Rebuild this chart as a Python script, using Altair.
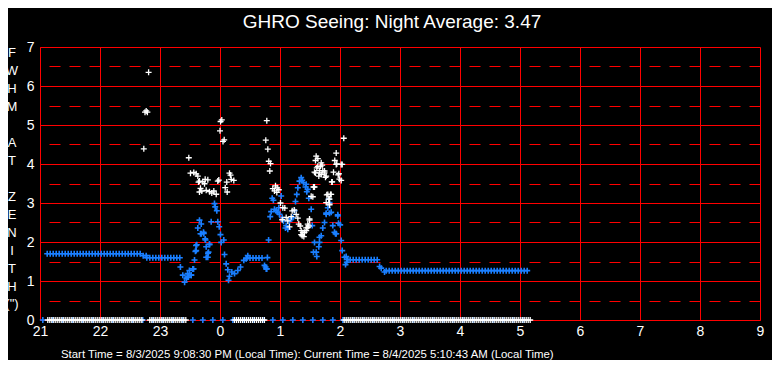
import altair as alt
import pandas as pd

# ---------------- data (x = hours after 21:00 local time) ----------------
hour_ticks = list(range(13))            # 21 .. 9
y_ticks = [0, 1, 2, 3, 4, 5, 6, 7]
half_lines = [0.5, 1.5, 2.5, 3.5, 4.5, 5.5, 6.5]

white_h = [1.81, 1.75, 1.77, 1.79, 1.73, 3.03, 3.01, 3.00, 3.07, 3.05, 2.48,
           2.508, 2.563, 2.603, 2.630, 2.658, 2.642, 2.713, 2.753, 2.797, 2.742,
           2.675, 2.658, 2.697, 2.770, 2.825, 2.863, 2.897, 2.937, 2.963, 2.980,
           3.158, 3.175, 3.187, 3.230, 3.113, 3.087, 3.120,
           3.78, 3.763, 3.797, 3.813, 3.842, 3.83, 3.88, 3.925, 3.953, 3.98,
           3.908, 3.947, 4.008, 4.047, 4.08, 4.203, 4.237, 4.27, 4.187, 4.103,
           4.037, 4.13, 4.158, 4.297, 4.313, 4.337, 4.38, 4.353, 4.397, 4.437,
           4.463, 4.492, 4.48, 4.547, 4.575, 4.592, 4.613, 4.63, 4.647, 4.687,
           4.675, 4.713, 4.658, 4.687, 4.742, 4.758, 4.87, 4.892, 4.937, 4.913,
           4.947, 4.97, 4.99, 5.02, 5.037, 5.063, 4.797, 4.842, 4.825, 4.825,
           4.77, 4.52, 4.603, 4.63, 4.592, 4.703, 4.575, 4.658, 4.742, 4.77,
           4.98, 4.863, 4.937, 5.02, 4.558, 4.78, 4.853, 4.813, 4.825, 4.492,
           4.463, 4.437, 4.408, 4.37, 4.353]
white_v = [6.35, 5.33, 5.36, 5.33, 4.39, 5.13, 5.09, 4.85, 4.62, 4.58, 4.16,
           3.766, 3.784, 3.748, 3.690, 3.562, 3.537, 3.545, 3.606, 3.595, 3.494,
           3.377, 3.282, 3.308, 3.326, 3.290, 3.257, 3.308, 3.224, 3.562, 3.588,
           3.766, 3.715, 3.606, 3.580, 3.537, 3.392, 3.282,
           5.11, 4.61, 4.38, 4.07, 4.01, 3.82, 3.37, 3.44, 3.39, 3.34,
           3.31, 3.27, 3.00, 2.88, 2.87, 2.80, 2.82, 2.71, 2.65, 2.63,
           2.57, 2.54, 2.39, 2.61, 2.46, 2.41, 2.24, 2.19, 2.14, 2.29,
           2.37, 2.56, 2.41, 3.16, 3.41, 3.77, 3.90, 3.94, 3.69, 4.03,
           3.94, 3.83, 3.77, 3.73, 3.77, 3.66, 3.54, 3.79, 4.28, 4.09,
           4.00, 3.72, 3.61, 3.58, 3.99, 4.66, 3.22, 3.22, 2.97, 3.10,
           3.01, 3.17, 4.20, 4.14, 4.09, 3.97, 3.79, 3.83, 3.82, 3.69,
           3.75, 3.54, 3.99, 3.99, 3.41, 3.21, 3.22, 3.10, 2.95, 2.59,
           2.46, 2.36, 2.25, 2.16, 2.29]

blue_h = [2.34, 2.60, 2.59, 2.69, 2.725, 2.758, 2.825, 2.80, 2.77, 2.56, 2.49,
          2.46, 2.44, 2.41, 2.38, 2.52, 2.47,
          2.908, 2.92, 2.947, 2.853, 2.658, 2.687, 2.63, 2.963, 2.987, 3.008,
          2.675, 2.73, 2.753, 2.77, 2.825, 2.808, 2.797, 2.613, 2.603, 2.575,
          3.02, 3.063, 3.075, 3.103, 3.13, 3.142, 3.158, 3.197, 3.242, 3.297,
          3.342, 3.397, 3.463, 3.437, 2.547, 2.52, 2.453,
          3.81, 3.76, 3.78, 3.79,
          3.742, 3.77, 3.837, 3.853, 3.87, 3.89, 3.908, 3.937, 3.963, 3.99,
          3.98, 4.02, 4.037, 4.058, 4.103, 4.13, 4.092, 4.158, 4.187, 4.213,
          4.242, 4.258, 4.28, 4.297, 4.325, 4.353, 4.37, 4.392, 4.425, 4.447,
          4.48, 4.52, 4.537, 4.575, 4.558, 4.613, 4.647, 4.658, 4.687, 4.713,
          4.742, 4.77, 4.797, 4.813, 4.825, 4.853, 4.88, 4.908, 4.937, 4.975,
          5.003, 5.02, 5.037, 5.075, 5.113, 5.13,
          4.437, 4.463, 4.658, 4.603, 4.963, 4.925, 5.092, 5.103,
          5.66, 5.687, 5.742, 4.77, 4.825, 4.963]
blue_v = [1.36, 1.91, 1.76, 2.21, 2.25, 2.05, 1.93, 1.71, 1.61, 1.31, 1.27,
          1.19, 1.06, 0.97, 1.15, 1.15, 1.10,
          2.985, 2.90, 2.80, 2.52, 2.56, 2.46, 2.36, 2.52, 2.39, 2.19,
          2.21, 2.22, 2.08, 1.88, 1.95, 1.74, 1.61, 1.93, 1.78, 1.54,
          1.99, 2.05, 1.68, 1.44, 1.29, 1.02, 1.12, 1.23, 1.19, 1.27,
          1.36, 1.53, 1.65, 1.57, 1.31, 1.15, 1.10,
          2.05, 1.36, 1.31, 1.60,
          1.40, 1.31, 2.65, 2.78, 3.12, 3.07, 2.84, 2.80, 2.76, 2.71,
          2.88, 3.18, 2.63, 2.54, 2.42, 2.33, 2.36, 2.54, 2.59, 2.63,
          2.80, 3.04, 3.22, 3.39, 3.56, 3.65, 3.58, 3.52, 3.41, 3.29,
          3.12, 2.84, 2.42, 1.99, 1.74, 1.63, 1.88, 1.99, 2.16, 2.36,
          2.50, 2.71, 2.88, 3.10, 3.01, 2.76, 2.42, 2.25, 2.21, 2.48,
          2.44, 2.04, 1.78, 1.61, 1.48, 1.55,
          3.48, 3.35, 2.12, 1.74, 2.67, 2.21, 1.42, 1.63,
          1.37, 1.33, 1.23, 2.74, 2.74, 2.70]

# runs of steady readings: start hour, end hour, value
blue_run_start = [0.12, 1.72, 1.78, 3.45, 5.17, 5.77]
blue_run_end = [1.71, 1.77, 2.33, 3.70, 5.66, 8.16]
blue_run_value = [1.70, 1.65, 1.595, 1.59, 1.545, 1.265]
blue_zero_start, blue_zero_end, blue_zero_step = 0.047, 8.16, 1 / 6

white_zero_start = [0.13, 1.83, 3.24, 5.07]
white_zero_end = [1.72, 2.45, 3.74, 8.17]

title_text = "GHRO Seeing: Night Average: 3.47"
footer_text = ("Start Time = 8/3/2025 9:08:30 PM (Local Time): "
               "Current Time = 8/4/2025 5:10:43 AM (Local Time)")
ytitle_words = [["F", "W", "H", "M"], ["A", "T"],
                ["Z", "E", "N", "I", "T", "H", "(\")"]]
ytitle_word_top = [6, 96, 150]          # pixel offset of each word's first letter

# ---------------- build tables ----------------
def run_points(starts, ends, values, step):
    hs, vs = [], []
    for s, e, v in zip(starts, ends, values):
        t = s
        while t <= e + 1e-9:
            hs.append(t)
            vs.append(v)
            t += step
    return hs, vs

bh, bv = run_points(blue_run_start, blue_run_end, blue_run_value, 0.05)
zh, zv = run_points([blue_zero_start], [blue_zero_end], [0.0], blue_zero_step)
wh, wv = run_points(white_zero_start, white_zero_end, [0.0] * 4, 1 / 30)

blue_df = pd.DataFrame({"h": blue_h + bh + zh, "v": blue_v + bv + zv})
white_df = pd.DataFrame({"h": white_h + wh, "v": white_v + wv})

RED = "#ff0000"
BLUE = "#1a7fff"
FONT = "Liberation Sans"
PLUS = "M-1,0H1M0,-1V1"

xscale = alt.Scale(domain=[0, 12], nice=False, zero=False)
yscale = alt.Scale(domain=[0, 7], nice=False)

x_axis = alt.Axis(values=hour_ticks, labelExpr="(datum.value + 21) % 24",
                  grid=True, gridColor=RED, gridWidth=1, gridOpacity=1,
                  domainColor=RED, domainWidth=1, ticks=False,
                  labelColor="white", labelFont=FONT, labelFontSize=14,
                  labelPadding=4, title=None, labelFlush=False,
                  labelOverlap=False)
y_axis = alt.Axis(values=y_ticks, grid=True, gridColor=RED, gridWidth=1,
                  gridOpacity=1, domainColor=RED, domainWidth=1, ticks=False,
                  labelColor="white", labelFont=FONT, labelFontSize=14,
                  labelPadding=6, title=None, labelFlush=False,
                  labelOverlap=False)
half_axis = alt.Axis(values=half_lines, orient="right", grid=True,
                     gridColor=RED, gridWidth=1, gridOpacity=1,
                     gridDash=[11, 9], domain=False,
                     ticks=False, labels=False, title=None)

X = alt.X("h:Q", scale=xscale, axis=x_axis)
Y = alt.Y("v:Q", scale=yscale, axis=y_axis)

frame = alt.Chart(pd.DataFrame({"h": [0], "v": [0]})).mark_point(opacity=0).encode(
    x=X, y=Y,
)

blue = alt.Chart(blue_df).mark_point(
    shape=PLUS, filled=False, stroke=BLUE, strokeWidth=1.6, size=36, opacity=1
).encode(x=X, y=Y)

white = alt.Chart(white_df).mark_point(
    shape=PLUS, filled=False, stroke="white", strokeWidth=1.3, size=36, opacity=1
).encode(x=X, y=Y)

title = alt.Chart(pd.DataFrame({"t": [title_text]})).mark_text(
    color="white", font=FONT, fontSize=19, align="center", baseline="alphabetic"
).encode(text="t:N", x=alt.value(352), y=alt.value(-19))

footer = alt.Chart(pd.DataFrame({"t": [footer_text]})).mark_text(
    color="white", font=FONT, fontSize=11.4, align="left",
    baseline="middle"
).encode(text="t:N", x=alt.value(21), y=alt.value(308))

ytitle_layers = []
for word, top in zip(ytitle_words, ytitle_word_top):
    ytitle_layers.append(
        alt.Chart(pd.DataFrame({"t": ["\n".join(word)]})).mark_text(
            color="white", font=FONT, fontSize=13, align="center",
            baseline="middle", lineBreak="\n", lineHeight=17.9
        ).encode(text="t:N", x=alt.value(-28), y=alt.value(top))
    )

# dashed half-unit grid lines, drawn by an axis of their own
half = alt.Chart(pd.DataFrame({"v": half_lines})).mark_rule(
    strokeOpacity=0
).encode(y=alt.Y("v:Q", scale=alt.Scale(domain=[0, 7], nice=False), axis=half_axis))

main = alt.layer(frame, blue, white, title, footer, *ytitle_layers)

chart = alt.layer(half, main).resolve_scale(y="independent").properties(
    width=720, height=273,
    autosize=alt.AutoSizeParams(type="none"),
    padding={"left": 32, "top": 39, "right": 12, "bottom": 40},
    background="black",
).configure_view(stroke=None)

chart.save("out.html", embed_options={"renderer": "svg", "actions": False})
